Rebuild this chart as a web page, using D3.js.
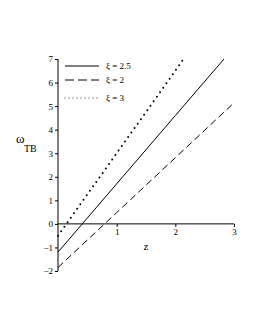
<!DOCTYPE html>
<html>
<head>
<meta charset="utf-8">
<script src="https://cdn.jsdelivr.net/npm/d3@7"></script>
<style>
  body { margin: 0; background: #fff; }
  text { font-family: "Liberation Serif", "DejaVu Serif", serif; fill: #000; }
</style>
</head>
<body>
<div id="chart"></div>
<script>
  // curves
  const zSolid = [0, 1, 2, 2.83];
  const wSolid = [-1.2, 1.7, 4.6, 7.0];
  const zDash = [0, 1, 2, 3];
  const wDash = [-1.85, 0.48, 2.81, 5.14];
  const zDot = [0, 1, 2, 2.14];
  const wDot = [-0.5, 3.0, 6.5, 7.0];
  const legendLabels = ["\u03be = 2.5", "\u03be = 2", "\u03be = 3"];
  const yTicks = [-2, -1, 0, 1, 2, 3, 4, 5, 6, 7];
  const xTicks = [1, 2, 3];

  var width = 255, height = 330;
  var svg = d3.select("#chart").append("svg")
    .attr("width", width).attr("height", height);

  var x = d3.scaleLinear().domain([0, 3]).range([58, 234]);
  var y = d3.scaleLinear().domain([-2, 7]).range([271, 59]);

  // y axis
  var yAxis = d3.axisLeft(y).tickValues(yTicks).tickSize(3).tickPadding(2)
    .tickFormat(d3.format("d"));
  var gy = svg.append("g").attr("transform", "translate(" + x(0) + ",0)").call(yAxis)
    .attr("font-family", null).attr("font-size", null);
  gy.selectAll("text").style("font-size", "9px");
  gy.select(".domain").attr("d", "M0," + y(-2) + "V" + y(7));

  // x axis along w = 0
  var xAxis = d3.axisBottom(x).tickValues(xTicks).tickSize(3).tickPadding(2)
    .tickFormat(d3.format("d"));
  var gx = svg.append("g").attr("transform", "translate(0," + y(0) + ")").call(xAxis)
    .attr("font-family", null).attr("font-size", null);
  gx.selectAll("text").style("font-size", "9px");
  gx.select(".domain").attr("d", "M" + x(0) + ",0H" + x(3));

  var line = d3.line().x(d => x(d[0])).y(d => y(d[1]));

  svg.append("path").datum(d3.zip(zSolid, wSolid))
    .attr("d", line).attr("fill", "none").attr("stroke", "#000").attr("stroke-width", 1);
  svg.append("path").datum(d3.zip(zDash, wDash))
    .attr("d", line).attr("fill", "none").attr("stroke", "#000").attr("stroke-width", 1)
    .attr("stroke-dasharray", "7,4");
  svg.append("path").datum(d3.zip(zDot, wDot))
    .attr("d", line).attr("fill", "none").attr("stroke", "#000").attr("stroke-width", 2)
    .attr("stroke-linecap", "round").attr("stroke-dasharray", "0,5.5");

  // legend
  var styles = [
    { dash: null, w: 1, cap: "butt" },
    { dash: "9,4", w: 1, cap: "butt" },
    { dash: "0,4", w: 1.2, cap: "round" }
  ];
  var legY = [66, 80, 98];
  legendLabels.forEach(function (lab, i) {
    svg.append("line").attr("x1", 65).attr("x2", 99)
      .attr("y1", legY[i]).attr("y2", legY[i])
      .attr("stroke", "#000").attr("stroke-width", styles[i].w)
      .attr("stroke-linecap", styles[i].cap)
      .attr("stroke-dasharray", styles[i].dash);
    svg.append("text").attr("x", 106).attr("y", legY[i] + 3)
      .style("font-size", "9px").text(lab);
  });

  // axis titles
  var yl = svg.append("text").attr("x", 16).attr("y", 143).style("font-size", "13px");
  yl.append("tspan").text("\u03c9");
  yl.append("tspan").attr("x", 24).attr("y", 152).style("font-size", "10px").text("TB");
  svg.append("text").attr("x", 146).attr("y", 250).attr("text-anchor", "middle")
    .style("font-size", "11px").text("z");
</script>
</body>
</html>
